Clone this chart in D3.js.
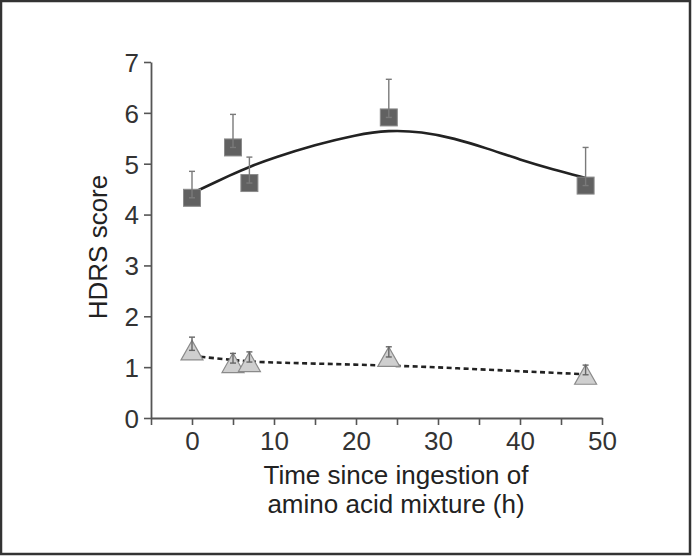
<!DOCTYPE html>
<html>
<head>
<meta charset="utf-8">
<script src="https://cdn.jsdelivr.net/npm/d3@7"></script>
<style>
  body { margin: 0; background: #fff; }
  svg { display: block; font-family: "Liberation Sans", Arial, sans-serif; }
</style>
</head>
<body>
<svg id="chart" width="692" height="556"></svg>
<script>
// measured time points (h)
var times = [0, 5, 7, 24, 48];

// active mixture (squares)
var activeMean = [4.33, 5.32, 4.62, 5.91, 4.57];
var activeUpper = [4.85, 5.97, 5.13, 6.66, 5.32];

// control mixture (triangles)
var ctrlMean = [1.33, 1.08, 1.10, 1.20, 0.85];
var ctrlUpper = [1.59, 1.27, 1.30, 1.40, 1.04];

// fitted curves
var fitTimes = [0, 5, 7, 10, 15, 20, 24, 28, 32, 36, 40, 44, 48];
var activeFit = [4.42, 4.8, 4.94, 5.12, 5.37, 5.57, 5.66, 5.63, 5.5, 5.3, 5.08, 4.89, 4.72];
var ctrlFit = [1.22, 1.14, 1.11, 1.09, 1.07, 1.05, 1.03, 1.01, 0.98, 0.95, 0.92, 0.89, 0.86];

var xTicks = d3.range(-5, 51, 5);
var xLabels = [0, 10, 20, 30, 40, 50];
var yTicks = [0, 1, 2, 3, 4, 5, 6, 7];

var svg = d3.select("#chart");

// outer frame
svg.append("rect")
  .attr("x", 1).attr("y", 1).attr("width", 689).attr("height", 553)
  .attr("fill", "#fff").attr("stroke", "#333").attr("stroke-width", 2.5);

var x = d3.scaleLinear().domain([-5, 50]).range([151, 602]);
var y = d3.scaleLinear().domain([0, 7]).range([418, 62]);

var axisColor = "#555";

// x axis
var xAxis = svg.append("g")
  .attr("transform", "translate(0," + y(0) + ")")
  .call(d3.axisBottom(x).tickValues(xTicks).tickSize(7).tickSizeOuter(0)
    .tickFormat(function(d) { return xLabels.indexOf(d) >= 0 ? d : ""; }));

// y axis
var yAxis = svg.append("g")
  .attr("transform", "translate(" + x(-5) + ",0)")
  .call(d3.axisLeft(y).tickValues(yTicks).tickSize(7).tickSizeOuter(0).tickPadding(5)
    .tickFormat(d3.format("d")));

[xAxis, yAxis].forEach(function(a) {
  a.attr("font-size", null).attr("font-family", null);
  a.select(".domain").attr("stroke", axisColor).attr("stroke-width", 1.8);
  a.selectAll(".tick line").attr("stroke", axisColor).attr("stroke-width", 1.6);
  a.selectAll(".tick text")
    .attr("fill", "#333")
    .style("font-size", "26px");
});
xAxis.selectAll(".tick text").attr("dy", "0.85em");
yAxis.selectAll(".tick text").attr("dy", "0.36em");

// axis titles
svg.append("text")
  .attr("transform", "translate(107,247) rotate(-90)")
  .attr("text-anchor", "middle")
  .attr("fill", "#222")
  .style("font-size", "26px")
  .text("HDRS score");

var xt = svg.append("text")
  .attr("text-anchor", "middle")
  .attr("fill", "#222")
  .style("font-size", "26px");
xt.append("tspan").attr("x", 396).attr("y", 484).text("Time since ingestion of");
xt.append("tspan").attr("x", 396).attr("y", 513).text("amino acid mixture (h)");

// fitted lines
var line = d3.line()
  .x(function(d) { return x(d[0]); })
  .y(function(d) { return y(d[1]); })
  .curve(d3.curveBasis);

svg.append("path")
  .datum(d3.zip(fitTimes, activeFit))
  .attr("d", line)
  .attr("fill", "none")
  .attr("stroke", "#222")
  .attr("stroke-width", 2.6);

svg.append("path")
  .datum(d3.zip(fitTimes, ctrlFit))
  .attr("d", line)
  .attr("fill", "none")
  .attr("stroke", "#222")
  .attr("stroke-width", 2.6)
  .attr("stroke-dasharray", "5,3.5");

// markers
var sq = 17;
svg.append("g").selectAll("rect")
  .data(d3.zip(times, activeMean))
  .enter().append("rect")
  .attr("x", function(d) { return x(d[0]) - sq / 2; })
  .attr("y", function(d) { return y(d[1]) - sq / 2; })
  .attr("width", sq).attr("height", sq)
  .attr("fill", "#616161")
  .attr("stroke", "#8a8a8a")
  .attr("stroke-width", 1);

svg.append("g").selectAll("path")
  .data(d3.zip(times, ctrlMean))
  .enter().append("path")
  .attr("d", function(d) {
    var cx = x(d[0]), cy = y(d[1]);
    return "M" + cx + "," + (cy - 10) + "L" + (cx + 11) + "," + (cy + 9.5) + "L" + (cx - 11) + "," + (cy + 9.5) + "Z";
  })
  .attr("fill", "#cfcfcf")
  .attr("stroke", "#8a8a8a")
  .attr("stroke-width", 1.2);

// error bars (upper half, drawn over the markers)
function errorBars(means, uppers, color) {
  var g = svg.append("g").attr("stroke", color).attr("stroke-width", 1.4);
  var rows = d3.zip(times, means, uppers);
  g.selectAll(".stem").data(rows).enter().append("line")
    .attr("x1", function(d) { return x(d[0]); })
    .attr("x2", function(d) { return x(d[0]); })
    .attr("y1", function(d) { return y(d[1]); })
    .attr("y2", function(d) { return y(d[2]); });
  g.selectAll(".cap").data(rows).enter().append("line")
    .attr("x1", function(d) { return x(d[0]) - 3; })
    .attr("x2", function(d) { return x(d[0]) + 3; })
    .attr("y1", function(d) { return y(d[2]); })
    .attr("y2", function(d) { return y(d[2]); });
  g.selectAll(".base").data(rows).enter().append("line")
    .attr("x1", function(d) { return x(d[0]) - 3; })
    .attr("x2", function(d) { return x(d[0]) + 3; })
    .attr("y1", function(d) { return y(d[1]); })
    .attr("y2", function(d) { return y(d[1]); });
}
errorBars(activeMean, activeUpper, "#7a7a7a");
errorBars(ctrlMean, ctrlUpper, "#666");
</script>
</body>
</html>
